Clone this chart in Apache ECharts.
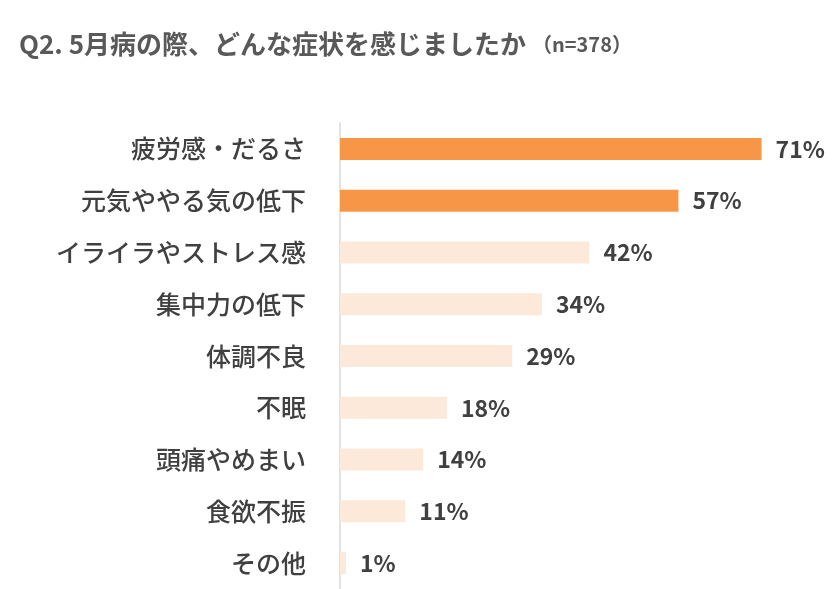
<!DOCTYPE html>
<html style="height: 100%">
<head>
<meta charset="utf-8">
<script src="https://cdn.jsdelivr.net/npm/echarts@6/dist/echarts.min.js"></script>
</head>
<body style="height: 100%; margin: 0; background: #fff">
<div id="container" style="width: 840px; height: 589px"></div>
<script type="text/javascript">
    var categories = ['疲労感・だるさ', '元気ややる気の低下', 'イライラやストレス感', '集中力の低下', '体調不良', '不眠', '頭痛やめまい', '食欲不振', 'その他'];
    var values = [71, 57, 42, 34, 29, 18, 14, 11, 1];
    var highlighted = [true, true, false, false, false, false, false, false, false];

    var font = '"Noto Sans CJK JP", sans-serif';
    var chart = echarts.init(document.getElementById('container'));

    var barData = [];
    for (var i = 0; i < values.length; i++) {
        barData.push({
            value: values[i],
            itemStyle: { color: highlighted[i] ? '#f79646' : '#fde9d9' }
        });
    }

    var option = {
        animation: false,
        title: {
            text: 'Q2. 5月病の際、どんな症状を感じましたか {s|（n=378）}',
            left: 14, top: 26,
            textStyle: {
                fontFamily: font, fontSize: 26, fontWeight: 'bold', color: '#595959',
                rich: { s: { fontFamily: font, fontSize: 20, fontWeight: 'bold', color: '#595959' } }
            }
        },
        grid: { left: 340, top: 123, height: 472, width: 475 },
        xAxis: { type: 'value', min: 0, max: 80, show: false },
        yAxis: {
            type: 'category',
            data: categories,
            inverse: true,
            axisTick: { show: false },
            axisLine: { lineStyle: { color: '#d9d9d9', width: 1.5 } },
            axisLabel: { margin: 34, fontFamily: font, fontSize: 25, fontWeight: 500, color: '#404040' }
        },
        series: [{
            type: 'bar',
            data: barData,
            barWidth: 22,
            label: {
                show: true, position: 'right', distance: 14,
                formatter: '{c}%',
                fontFamily: font, fontSize: 23, fontWeight: 'bold', color: '#404040'
            }
        }]
    };
    chart.setOption(option);
</script>
</body>
</html>
